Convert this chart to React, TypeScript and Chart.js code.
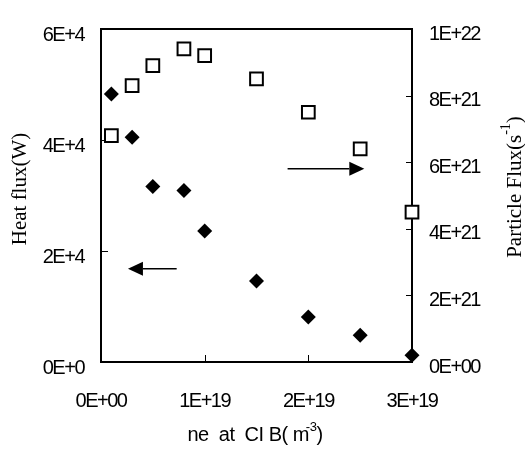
import React, { useEffect, useRef } from "react";
import { Chart, registerables } from "chart.js";

Chart.register(...registerables);

// ---- data ----
const densities = [1e18, 3e18, 5e18, 8e18, 1e19, 1.5e19, 2e19, 2.5e19, 3e19];
const heatFlux = [48300, 40500, 31600, 30900, 23600, 14600, 8100, 4800, 1200];
const particleFlux = [6.8e21, 8.3e21, 8.9e21, 9.4e21, 9.2e21, 8.5e21, 7.5e21, 6.4e21, 4.5e21];

const xTickValues = [0, 1e19, 2e19, 3e19];
const xTickLabels = ["0E+00", "1E+19", "2E+19", "3E+19"];
const leftTickValues = [0, 2e4, 4e4, 6e4];
const leftTickLabels = ["0E+0", "2E+4", "4E+4", "6E+4"];
const rightTickValues = [0, 2e21, 4e21, 6e21, 8e21, 1e22];
const rightTickLabels = ["0E+00", "2E+21", "4E+21", "6E+21", "8E+21", "1E+22"];

// arrows (data coordinates)
const arrowFromX = [0.73e19, 1.8e19];
const arrowToX = [0.26e19, 2.54e19];
const arrowY = [1.68e4, 5.8e21];
const arrowAxis = ["y", "y1"];

const SANS = "'Liberation Sans', Arial, sans-serif";
const SERIF = "'Liberation Serif', 'Times New Roman', serif";

type Part = { t: string; sup?: boolean; dx?: number };

function drawRich(ctx: any, parts: Part[], size: number, family: string, spacing: string, cx: number, cy: number, rot: number) {
  const supSize = Math.round(size * 0.65);
  ctx.save();
  ctx.letterSpacing = spacing;
  let total = 0;
  const widths = parts.map((p) => {
    ctx.font = `${p.sup ? supSize : size}px ${family}`;
    const w = ctx.measureText(p.t).width + (p.dx || 0);
    total += w;
    return w;
  });
  ctx.translate(cx, cy);
  ctx.rotate(rot);
  ctx.fillStyle = "#000";
  ctx.textBaseline = "middle";
  ctx.textAlign = "left";
  let x = -total / 2;
  parts.forEach((p, i) => {
    ctx.font = `${p.sup ? supSize : size}px ${family}`;
    ctx.fillText(p.t, x + (p.dx || 0), p.sup ? -size * 0.4 : 0);
    x += widths[i];
  });
  ctx.restore();
}

const decorPlugin = {
  id: "decor",
  beforeDraw(chart: any) {
    chart.ctx.letterSpacing = "-1.5px";
  },
  beforeDatasetsDraw(chart: any) {
    const { ctx, chartArea: a, scales } = chart;
    ctx.save();
    ctx.strokeStyle = "#000";
    ctx.lineWidth = 1;
    leftTickValues.slice(1, -1).forEach((v) => {
      const y = Math.round(scales.y.getPixelForValue(v)) + 0.5;
      ctx.beginPath();
      ctx.moveTo(a.left, y);
      ctx.lineTo(a.left + 7, y);
      ctx.stroke();
    });
    rightTickValues.slice(1, -1).forEach((v) => {
      const y = Math.round(scales.y1.getPixelForValue(v)) + 0.5;
      ctx.beginPath();
      ctx.moveTo(a.right, y);
      ctx.lineTo(a.right - 6, y);
      ctx.stroke();
    });
    xTickValues.slice(1, -1).forEach((v) => {
      const x = Math.round(scales.x.getPixelForValue(v)) + 0.5;
      ctx.beginPath();
      ctx.moveTo(x, a.bottom);
      ctx.lineTo(x, a.bottom - 7);
      ctx.stroke();
    });
    ctx.lineWidth = 2;
    ctx.strokeRect(a.left, a.top, a.right - a.left, a.bottom - a.top);
    ctx.restore();
  },
  afterDatasetsDraw(chart: any) {
    const { ctx, scales } = chart;
    ctx.save();
    ctx.strokeStyle = "#000";
    ctx.fillStyle = "#000";
    ctx.lineWidth = 1.5;
    arrowFromX.forEach((fx, i) => {
      const x1 = scales.x.getPixelForValue(fx);
      const x2 = scales.x.getPixelForValue(arrowToX[i]);
      const y = scales[arrowAxis[i]].getPixelForValue(arrowY[i]);
      const dir = Math.sign(x2 - x1);
      const headLen = 15;
      const headHalf = 7;
      ctx.beginPath();
      ctx.moveTo(x1, y);
      ctx.lineTo(x2 - dir * headLen, y);
      ctx.stroke();
      ctx.beginPath();
      ctx.moveTo(x2, y);
      ctx.lineTo(x2 - dir * headLen, y - headHalf);
      ctx.lineTo(x2 - dir * headLen, y + headHalf);
      ctx.closePath();
      ctx.fill();
    });
    ctx.restore();
  },
  afterDraw(chart: any) {
    const { ctx } = chart;
    drawRich(ctx, [{ t: "Heat flux(W)" }], 21, SERIF, "0px", 20, 189, -Math.PI / 2);
    drawRich(ctx, [{ t: "Particle Flux(s" }, { t: "-1", sup: true }, { t: ")" }], 21, SERIF, "0px", 515, 187, -Math.PI / 2);
    drawRich(ctx, [{ t: "ne  at  CI B( m" }, { t: "-3", sup: true, dx: -3 }, { t: ")" }], 20, SANS, "-0.5px", 255, 435, 0);
  },
};

export default function App() {
  const ref = useRef<HTMLCanvasElement | null>(null);
  useEffect(() => {
    if (!ref.current) return;
    const tickFont = { family: SANS, size: 20 };
    const chart = new Chart(ref.current, {
      type: "scatter",
      data: {
        datasets: [
          {
            label: "Heat flux",
            data: densities.map((x, i) => ({ x, y: heatFlux[i] })),
            yAxisID: "y",
            pointStyle: "rectRot",
            pointRadius: 7.5,
            backgroundColor: "#000",
            borderColor: "#000",
            borderWidth: 0,
            clip: false,
          } as any,
          {
            label: "Particle flux",
            data: densities.map((x, i) => ({ x, y: particleFlux[i] })),
            yAxisID: "y1",
            pointStyle: "rect",
            pointRadius: 9,
            backgroundColor: "#fff",
            borderColor: "#000",
            borderWidth: 2,
            clip: false,
          } as any,
        ],
      },
      plugins: [decorPlugin],
      options: {
        responsive: false,
        animation: false,
        layout: { padding: { top: 15, left: 0, right: 0, bottom: 0 } },
        plugins: { legend: { display: false }, tooltip: { enabled: false } },
        scales: {
          x: {
            type: "linear",
            min: 0,
            max: 3e19,
            afterBuildTicks: (s: any) => {
              s.ticks = xTickValues.map((value) => ({ value }));
            },
            afterFit: (s: any) => {
              s.height = 97;
            },
            grid: { display: true, drawOnChartArea: false, drawTicks: false },
            border: { display: false },
            ticks: {
              font: tickFont,
              color: "#000",
              padding: 27,
              maxRotation: 0,
              callback: (_v: any, i: number) => xTickLabels[i],
            },
          },
          y: {
            type: "linear",
            position: "left",
            min: 0,
            max: 6e4,
            afterBuildTicks: (s: any) => {
              s.ticks = leftTickValues.map((value) => ({ value }));
            },
            afterFit: (s: any) => {
              s.width = 101;
            },
            grid: { display: true, drawOnChartArea: false, drawTicks: false },
            border: { display: false },
            ticks: {
              font: tickFont,
              color: "#000",
              padding: 17,
              labelOffset: 6,
              callback: (_v: any, i: number) => leftTickLabels[i],
            },
          },
          y1: {
            type: "linear",
            position: "right",
            min: 0,
            max: 1e22,
            afterBuildTicks: (s: any) => {
              s.ticks = rightTickValues.map((value) => ({ value }));
            },
            afterFit: (s: any) => {
              s.width = 113;
            },
            grid: { display: true, drawOnChartArea: false, drawTicks: false },
            border: { display: false },
            ticks: {
              font: tickFont,
              color: "#000",
              padding: 17,
              labelOffset: 5,
              callback: (_v: any, i: number) => rightTickLabels[i],
            },
          },
        },
      } as any,
    });
    return () => chart.destroy();
  }, []);
  return (
    <div style={{ position: "absolute", left: 0, top: 0, width: 525, height: 459, background: "#fff" }}>
      <canvas ref={ref} width={525} height={459} />
    </div>
  );
}
